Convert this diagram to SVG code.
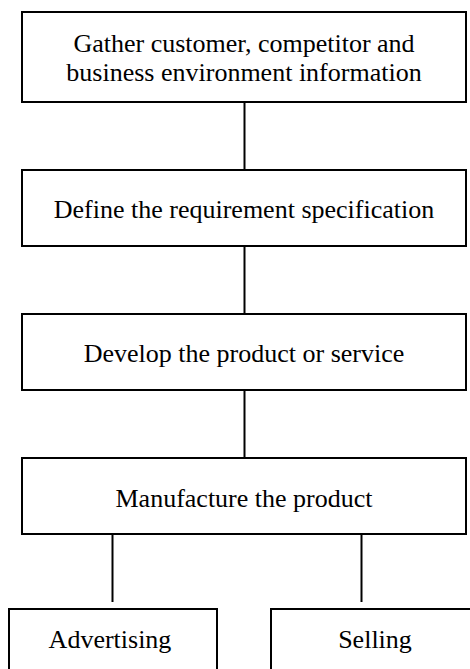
<svg xmlns="http://www.w3.org/2000/svg" width="470" height="669" viewBox="0 0 470 669">
  <style>
    .box { fill: #ffffff; stroke: #000000; stroke-width: 2; }
    .link { stroke: #000000; stroke-width: 2; fill: none; }
    .label { font-family: "Liberation Serif", "Times New Roman", serif; font-size: 26px; fill: #000000; text-anchor: middle; }
  </style>
  <rect width="470" height="669" fill="#ffffff"/>

  <!-- vertical connectors between stages -->
  <g id="connectors">
    <line class="link" x1="244.5" y1="102" x2="244.5" y2="170"/>
    <line class="link" x1="244.5" y1="246" x2="244.5" y2="314"/>
    <line class="link" x1="244.5" y1="390" x2="244.5" y2="458"/>
    <line class="link" x1="112.5" y1="534" x2="112.5" y2="602"/>
    <line class="link" x1="361.5" y1="534" x2="361.5" y2="602"/>
  </g>

  <g id="gather">
    <rect class="box" x="22" y="12" width="444" height="90"/>
    <text class="label" x="244" y="52">Gather customer, competitor and</text>
    <text class="label" x="244" y="81">business environment information</text>
  </g>

  <g id="define">
    <rect class="box" x="22" y="170" width="444" height="76"/>
    <text class="label" x="244" y="218">Define the requirement specification</text>
  </g>

  <g id="develop">
    <rect class="box" x="22" y="314" width="444" height="76"/>
    <text class="label" x="244" y="362">Develop the product or service</text>
  </g>

  <g id="manufacture">
    <rect class="box" x="22" y="458" width="444" height="76"/>
    <text class="label" x="244" y="507">Manufacture the product</text>
  </g>

  <g id="advertising">
    <rect class="box" x="9" y="609" width="208" height="80"/>
    <text class="label" x="110" y="648">Advertising</text>
  </g>

  <g id="selling">
    <rect class="box" x="271" y="609" width="208" height="80"/>
    <text class="label" x="375" y="648">Selling</text>
  </g>
</svg>
